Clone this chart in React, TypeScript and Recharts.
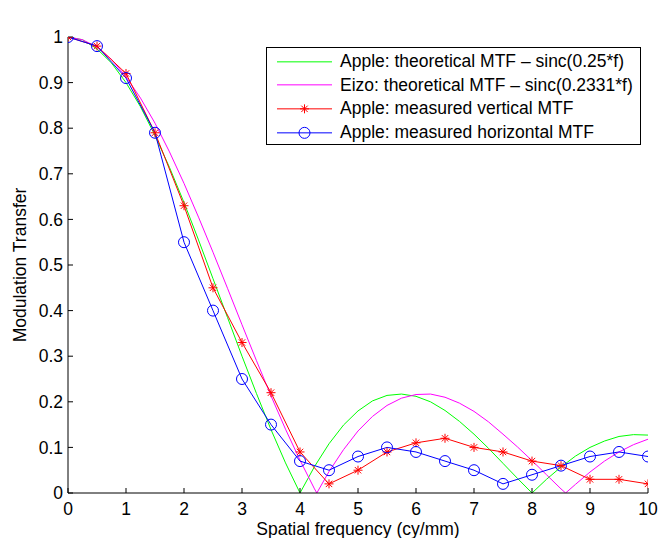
import React from 'react';
import { ComposedChart, Line, XAxis, YAxis, Legend } from 'recharts';

// theoretical curves
const theoryFreq = [
  0, 0.25, 0.5, 0.75, 1, 1.25, 1.5, 1.75, 2, 2.25, 2.5, 2.75, 3, 3.25, 3.5, 3.75, 4, 4.25, 4.5, 4.75,
  5, 5.25, 5.5, 5.75, 6, 6.25, 6.5, 6.75, 7, 7.25, 7.5, 7.75, 8, 8.25, 8.5, 8.75, 9, 9.25, 9.5, 9.75, 10,
];
const appleTheory = [
  1, 0.994, 0.974, 0.943, 0.9, 0.847, 0.784, 0.714, 0.637, 0.555, 0.47, 0.385, 0.3, 0.218, 0.139, 0.066,
  0, 0.058, 0.108, 0.149, 0.18, 0.202, 0.214, 0.217, 0.212, 0.2, 0.181, 0.157, 0.129, 0.098, 0.065, 0.032,
  0, 0.03, 0.057, 0.081, 0.1, 0.114, 0.124, 0.128, 0.127,
];
const eizoFreq = [
  0, 0.25, 0.5, 0.75, 1, 1.25, 1.5, 1.75, 2, 2.25, 2.5, 2.75, 3, 3.25, 3.5, 3.75, 4, 4.25, 4.29, 4.5,
  4.75, 5, 5.25, 5.5, 5.75, 6, 6.25, 6.5, 6.75, 7, 7.25, 7.5, 7.75, 8, 8.25, 8.5, 8.58, 8.75, 9, 9.25,
  9.5, 9.75, 10,
];
const eizoTheory = [
  1, 0.994, 0.978, 0.951, 0.913, 0.866, 0.811, 0.748, 0.679, 0.605, 0.528, 0.449, 0.369, 0.29, 0.213,
  0.14, 0.072, 0.009, 0, 0.047, 0.095, 0.136, 0.168, 0.192, 0.208, 0.216, 0.217, 0.21, 0.197, 0.179,
  0.156, 0.129, 0.101, 0.071, 0.04, 0.009, 0, 0.019, 0.046, 0.07, 0.09, 0.106, 0.118,
];

// measured points
const measuredFreq = [0, 0.5, 1, 1.5, 2, 2.5, 3, 3.5, 4, 4.5, 5, 5.5, 6, 6.5, 7, 7.5, 8, 8.5, 9, 9.5, 10];
const appleVertical = [
  1, 0.98, 0.92, 0.79, 0.63, 0.45, 0.33, 0.22, 0.09, 0.02, 0.05, 0.09, 0.11, 0.12, 0.1, 0.09, 0.07, 0.06,
  0.03, 0.03, 0.02,
];
const appleHorizontal = [
  1, 0.98, 0.91, 0.79, 0.55, 0.4, 0.25, 0.15, 0.07, 0.05, 0.08, 0.1, 0.09, 0.07, 0.05, 0.02, 0.04, 0.06,
  0.08, 0.09, 0.08,
];

const xTicks = [0, 1, 2, 3, 4, 5, 6, 7, 8, 9, 10];
const yTicks = [0, 0.1, 0.2, 0.3, 0.4, 0.5, 0.6, 0.7, 0.8, 0.9, 1];

const seriesNames = [
  'Apple: theoretical MTF \u2013 sinc(0.25*f)',
  'Eizo: theoretical MTF \u2013 sinc(0.2331*f)',
  'Apple: measured vertical MTF',
  'Apple: measured horizontal MTF',
];
const seriesColors = ['#00ff00', '#ff00ff', '#ff0000', '#0000ff'];
const seriesMarkers = ['none', 'none', 'star', 'circle'];

const toPoints = (xs: number[], ys: number[]) => xs.map((f, i) => ({ f, v: ys[i] }));

const FONT = '"Liberation Sans", Arial, Helvetica, sans-serif';
const FS = 17.5;

const Marker = ({ kind, cx, cy, color }: { kind: string; cx: number; cy: number; color: string }) => {
  if (kind === 'star') {
    const r = 4.5;
    const d = 3.2;
    return (
      <g stroke={color} strokeWidth={1} fill="none">
        <line x1={cx - r} y1={cy} x2={cx + r} y2={cy} />
        <line x1={cx} y1={cy - r} x2={cx} y2={cy + r} />
        <line x1={cx - d} y1={cy - d} x2={cx + d} y2={cy + d} />
        <line x1={cx - d} y1={cy + d} x2={cx + d} y2={cy - d} />
      </g>
    );
  }
  if (kind === 'circle') {
    return <circle cx={cx} cy={cy} r={5.5} stroke={color} strokeWidth={1} fill="none" />;
  }
  return null;
};

const dotFor = (kind: string, color: string) => (props: any) => (
  <g key={`${kind}-${props.index}`}>
    <Marker kind={kind} cx={props.cx} cy={props.cy} color={color} />
  </g>
);

const MtfLegend = () => (
  <div
    style={{
      border: '1px solid #000',
      background: '#fff',
      width: 375,
      height: 98,
      boxSizing: 'border-box',
      paddingTop: 1.5,
      fontFamily: FONT,
      fontSize: FS,
      color: '#000',
    }}
  >
    {seriesNames.map((name, i) => (
      <div key={name} style={{ display: 'flex', alignItems: 'center', height: 23.7, whiteSpace: 'nowrap' }}>
        <svg width={73} height={23.7} style={{ flex: 'none' }}>
          <line x1={10} y1={11.85} x2={65} y2={11.85} stroke={seriesColors[i]} strokeWidth={1} />
          <Marker kind={seriesMarkers[i]} cx={37.5} cy={11.85} color={seriesColors[i]} />
        </svg>
        <span>{name}</span>
      </div>
    ))}
  </div>
);

export default function App() {
  const tickStyle = { fill: '#000', fontSize: FS, fontFamily: FONT };
  return (
    <div style={{ position: 'absolute', left: 0, top: 0, background: '#fff' }}>
      <ComposedChart width={660} height={538} margin={{ top: 37, right: 12, bottom: 0, left: 0 }}>
        <XAxis
          dataKey="f"
          type="number"
          domain={[0, 10]}
          ticks={xTicks}
          allowDataOverflow
          height={45}
          tickSize={-5}
          tickMargin={14.5}
          tick={tickStyle}
          axisLine={{ stroke: '#000' }}
          tickLine={{ stroke: '#000' }}
          label={{ value: 'Spatial frequency (cy/mm)', position: 'insideBottom', offset: 3, fill: '#000', fontSize: FS, fontFamily: FONT }}
        />
        <XAxis
          xAxisId="top"
          orientation="top"
          dataKey="f"
          type="number"
          domain={[0, 10]}
          ticks={xTicks}
          allowDataOverflow
          height={0}
          tickSize={-5}
          tick={false}
          axisLine={{ stroke: '#000' }}
          tickLine={{ stroke: '#000' }}
          label={{ value: 'MTF', position: 'top', offset: 13.5, fill: '#000', fontSize: FS, fontFamily: FONT }}
        />
        <YAxis
          type="number"
          domain={[0, 1]}
          ticks={yTicks}
          allowDataOverflow
          width={68}
          tickSize={-5}
          tickMargin={10}
          tick={tickStyle}
          axisLine={{ stroke: '#000' }}
          tickLine={{ stroke: '#000' }}
          label={{
            value: 'Modulation Transfer',
            angle: -90,
            position: 'insideLeft',
            offset: 20,
            fill: '#000',
            fontSize: FS,
            fontFamily: FONT,
            style: { textAnchor: 'middle' },
          }}
        />
        <YAxis
          yAxisId="right"
          orientation="right"
          type="number"
          domain={[0, 1]}
          ticks={yTicks}
          allowDataOverflow
          width={0}
          tickSize={-5}
          tick={false}
          axisLine={{ stroke: '#000' }}
          tickLine={{ stroke: '#000' }}
        />
        <Legend
          layout="vertical"
          align="center"
          verticalAlign="middle"
          wrapperStyle={{ left: 266, top: 47, width: 375 }}
          content={() => <MtfLegend />}
        />
        <Line
          data={toPoints(theoryFreq, appleTheory)}
          dataKey="v"
          name={seriesNames[0]}
          type="linear"
          stroke={seriesColors[0]}
          strokeWidth={1}
          dot={false}
          activeDot={false}
          isAnimationActive={false}
        />
        <Line
          data={toPoints(eizoFreq, eizoTheory)}
          dataKey="v"
          name={seriesNames[1]}
          type="linear"
          stroke={seriesColors[1]}
          strokeWidth={1}
          dot={false}
          activeDot={false}
          isAnimationActive={false}
        />
        <Line
          data={toPoints(measuredFreq, appleVertical)}
          dataKey="v"
          name={seriesNames[2]}
          type="linear"
          stroke={seriesColors[2]}
          strokeWidth={1}
          dot={dotFor('star', seriesColors[2])}
          activeDot={false}
          isAnimationActive={false}
        />
        <Line
          data={toPoints(measuredFreq, appleHorizontal)}
          dataKey="v"
          name={seriesNames[3]}
          type="linear"
          stroke={seriesColors[3]}
          strokeWidth={1}
          dot={dotFor('circle', seriesColors[3])}
          activeDot={false}
          isAnimationActive={false}
        />
      </ComposedChart>
    </div>
  );
}
